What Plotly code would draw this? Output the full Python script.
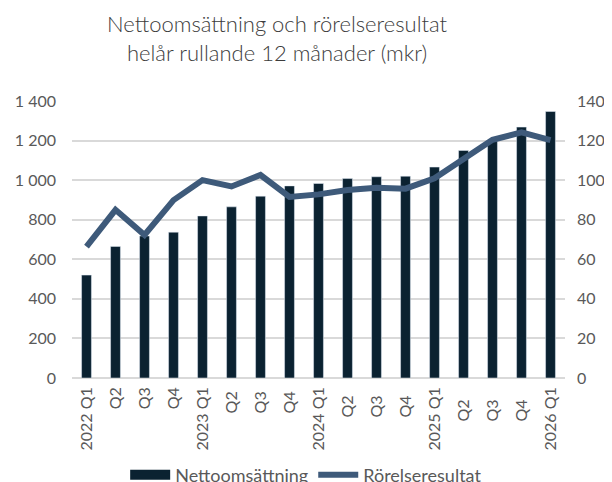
import plotly.graph_objects as go

categories = ["2022 Q1", "Q2", "Q3", "Q4", "2023 Q1", "Q2 ", "Q3 ", "Q4 ",
              "2024 Q1", "Q2  ", "Q3  ", "Q4  ", "2025 Q1", "Q2   ", "Q3   ", "Q4   ", "2026 Q1"]
nettoomsattning = [520, 665, 718, 737, 819, 865, 919, 971, 983, 1008, 1017, 1020, 1066, 1150, 1200, 1268, 1347]
rorelseresultat = [66.4, 85.0, 72.3, 89.9, 100.0, 96.8, 102.6, 91.5, 92.8, 95.0, 96.2, 95.7, 100.9, 111.0, 120.4, 124.1, 120.2]
left_ticks = [0, 200, 400, 600, 800, 1000, 1200, 1400]
left_labels = ["0", "200", "400", "600", "800", "1 000", "1 200", "1 400"]
right_ticks = [0, 20, 40, 60, 80, 100, 120, 140]

font = "Lato, sans-serif"
bar_color = "#0b2231"
line_color = "#3e5a7a"

fig = go.Figure()
fig.add_trace(go.Bar(x=categories, y=nettoomsattning, name="Nettoomsättning",
                     marker=dict(color=bar_color), width=0.34, showlegend=False))
# legend entry drawn as a wide block like the reference
fig.add_trace(go.Scatter(x=[categories[0]], y=[None], name="Nettoomsättning", mode="lines",
                         line=dict(color=bar_color, width=14), hoverinfo="skip"))
fig.add_trace(go.Scatter(x=categories, y=rorelseresultat, name="Rörelseresultat", yaxis="y2",
                         mode="lines", line=dict(color=line_color, width=6)))

fig.update_layout(
    width=612, height=482,
    margin=dict(l=64, r=55, t=93, b=112, autoexpand=False),
    paper_bgcolor="white", plot_bgcolor="white",
    font=dict(family=font, color="#595959", size=16),
    annotations=[dict(text="Nettoomsättning och rörelseresultat<br>helår rullande 12 månader (mkr)",
                      xref="paper", yref="paper", x=0.416, y=1.229, xanchor="center", yanchor="middle",
                      showarrow=False, font=dict(size=22, color="#3c3c3c", family=font, weight=300))],
    xaxis=dict(tickangle=-90, showgrid=False, ticks="", showline=False, automargin=False,
               ticklabelstandoff=5, tickfont=dict(size=16, color="#595959")),
    yaxis=dict(range=[0, 1400], tickvals=left_ticks, ticktext=left_labels, automargin=False,
               gridcolor="#d9d9d9", gridwidth=1.5, zeroline=True, zerolinecolor="#d9d9d9",
               zerolinewidth=1.5, ticks="", ticklabelstandoff=15),
    yaxis2=dict(range=[0, 140], tickvals=right_ticks, overlaying="y", side="right", automargin=False,
                showgrid=False, zeroline=False, ticks="", ticklabelstandoff=11),
    legend=dict(orientation="h", x=0.475, xanchor="center", yref="paper", y=-0.35, yanchor="middle",
                font=dict(size=18, color="#595959"), traceorder="normal", itemwidth=40),
    bargap=0.66,
)
fig.write_html("out.html")
